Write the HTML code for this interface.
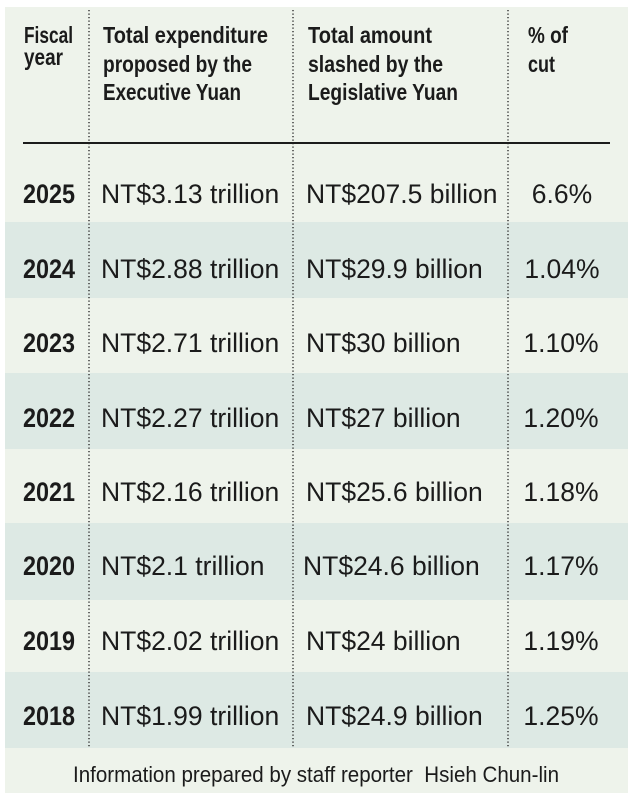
<!DOCTYPE html>
<html>
<head>
<meta charset="utf-8">
<style>
  html,body{margin:0;padding:0;background:#ffffff;}
  svg{display:block;}
  text{font-family:"Liberation Sans", Arial, sans-serif; fill:#1b1b1b;}
  .h{font-weight:bold;font-size:23px;}
  .y{font-weight:bold;font-size:27px;}
  .d{font-size:26.5px;}
  .f{font-size:22px;}
</style>
</head>
<body>
<svg width="634" height="800" viewBox="0 0 634 800" xmlns="http://www.w3.org/2000/svg">
  <rect x="0" y="0" width="634" height="800" fill="#ffffff"/>
  <rect x="5" y="7" width="623" height="786" fill="#eef3eb"/>
  <!-- bands -->
  <rect x="5" y="222" width="623" height="76" fill="#dde9e4"/>
  <rect x="5" y="373" width="623" height="76" fill="#dde9e4"/>
  <rect x="5" y="523" width="623" height="77" fill="#dde9e4"/>
  <rect x="5" y="672" width="623" height="76" fill="#dde9e4"/>

  <!-- dotted separators -->
  <g stroke="#3a3a3a" stroke-width="1.5" stroke-dasharray="1.3 2.2">
    <line x1="89" y1="10" x2="89" y2="748"/>
    <line x1="293" y1="10" x2="293" y2="748"/>
    <line x1="508" y1="10" x2="508" y2="748"/>
  </g>

  <!-- header rule -->
  <line x1="23" y1="143" x2="610" y2="143" stroke="#1b1b1b" stroke-width="2"/>

  <!-- headers -->
  <text class="h" x="24" y="43" textLength="49" lengthAdjust="spacingAndGlyphs">Fiscal</text>
  <text class="h" x="24" y="65" textLength="39" lengthAdjust="spacingAndGlyphs">year</text>

  <text class="h" x="103" y="43" textLength="165" lengthAdjust="spacingAndGlyphs">Total expenditure</text>
  <text class="h" x="103" y="72" textLength="149" lengthAdjust="spacingAndGlyphs">proposed by the</text>
  <text class="h" x="103" y="100" textLength="138" lengthAdjust="spacingAndGlyphs">Executive Yuan</text>

  <text class="h" x="308" y="43" textLength="124" lengthAdjust="spacingAndGlyphs">Total amount</text>
  <text class="h" x="308" y="72" textLength="135" lengthAdjust="spacingAndGlyphs">slashed by  the</text>
  <text class="h" x="308" y="100" textLength="150" lengthAdjust="spacingAndGlyphs">Legislative Yuan</text>

  <text class="h" x="528" y="43" textLength="40" lengthAdjust="spacingAndGlyphs">% of</text>
  <text class="h" x="528" y="72" textLength="27" lengthAdjust="spacingAndGlyphs">cut</text>

  <!-- rows -->
  <g>
    <text class="y" x="23" y="203" textLength="52" lengthAdjust="spacingAndGlyphs">2025</text>
    <text class="d" x="101" y="203">NT$3.13 trillion</text>
    <text class="d" x="306" y="203">NT$207.5 billion</text>
    <text class="d" x="562" y="203" text-anchor="middle">6.6%</text>

    <text class="y" x="23" y="278" textLength="52" lengthAdjust="spacingAndGlyphs">2024</text>
    <text class="d" x="101" y="278">NT$2.88 trillion</text>
    <text class="d" x="306" y="278">NT$29.9 billion</text>
    <text class="d" x="562" y="278" text-anchor="middle">1.04%</text>

    <text class="y" x="23" y="352" textLength="52" lengthAdjust="spacingAndGlyphs">2023</text>
    <text class="d" x="101" y="352">NT$2.71 trillion</text>
    <text class="d" x="306" y="352">NT$30 billion</text>
    <text class="d" x="561" y="352" text-anchor="middle">1.10%</text>

    <text class="y" x="23" y="427" textLength="52" lengthAdjust="spacingAndGlyphs">2022</text>
    <text class="d" x="101" y="427">NT$2.27 trillion</text>
    <text class="d" x="306" y="427">NT$27 billion</text>
    <text class="d" x="561" y="427" text-anchor="middle">1.20%</text>

    <text class="y" x="23" y="501" textLength="52" lengthAdjust="spacingAndGlyphs">2021</text>
    <text class="d" x="101" y="501">NT$2.16 trillion</text>
    <text class="d" x="306" y="501">NT$25.6 billion</text>
    <text class="d" x="561" y="501" text-anchor="middle">1.18%</text>

    <text class="y" x="23" y="575" textLength="52" lengthAdjust="spacingAndGlyphs">2020</text>
    <text class="d" x="101" y="575">NT$2.1 trillion</text>
    <text class="d" x="303" y="575">NT$24.6 billion</text>
    <text class="d" x="561" y="575" text-anchor="middle">1.17%</text>

    <text class="y" x="23" y="650" textLength="52" lengthAdjust="spacingAndGlyphs">2019</text>
    <text class="d" x="101" y="650">NT$2.02 trillion</text>
    <text class="d" x="306" y="650">NT$24 billion</text>
    <text class="d" x="561" y="650" text-anchor="middle">1.19%</text>

    <text class="y" x="23" y="725" textLength="52" lengthAdjust="spacingAndGlyphs">2018</text>
    <text class="d" x="101" y="725">NT$1.99 trillion</text>
    <text class="d" x="306" y="725">NT$24.9 billion</text>
    <text class="d" x="561" y="725" text-anchor="middle">1.25%</text>
  </g>

  <!-- footer -->
  <text class="f" x="73" y="782" textLength="486" lengthAdjust="spacingAndGlyphs" xml:space="preserve">Information prepared by staff reporter  Hsieh Chun-lin</text>
</svg>
</body>
</html>
